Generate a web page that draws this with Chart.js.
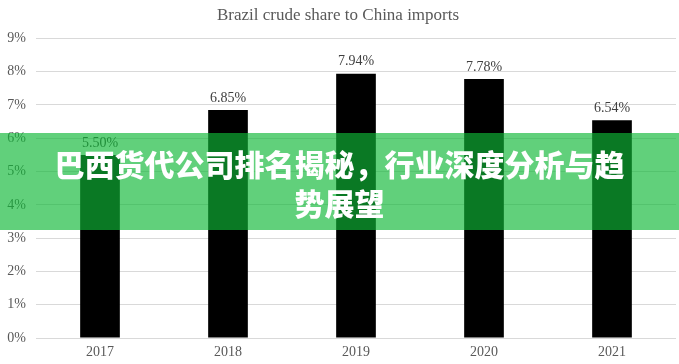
<!DOCTYPE html>
<html><head><meta charset="utf-8">
<script src="https://cdn.jsdelivr.net/npm/chart.js@4/dist/chart.umd.min.js"></script>
<style>
html,body{margin:0;padding:0;background:#fff;}
#wrap{position:relative;width:679px;height:364px;}
canvas{display:block;}
#banner{position:absolute;left:0;top:133px;width:679px;height:97px;background:rgba(15,184,55,0.66);display:flex;align-items:center;justify-content:center;}
#banner div{width:585px;text-align:center;color:#fff;font-family:"Noto Sans CJK SC","Noto Sans",sans-serif;font-weight:900;font-size:30px;line-height:39px;padding-top:2px;}
</style></head><body>
<div id="wrap"><canvas id="c" width="679" height="364"></canvas>
<div id="banner"><div>巴西货代公司排名揭秘，行业深度分析与趋势展望</div></div></div>
<script>
const categories = ["2017","2018","2019","2020","2021"];
const shareValues = [5.50, 6.85, 7.94, 7.78, 6.54];
const yTickMax = 9;
const chartTitle = "Brazil crude share to China imports";

const labelPlugin = {
  id: 'barLabels',
  afterDatasetsDraw(chart){
    const ctx = chart.ctx;
    const meta = chart.getDatasetMeta(0);
    ctx.save();
    ctx.font = '14px "Liberation Serif", serif';
    ctx.fillStyle = '#404040';
    ctx.textAlign = 'center';
    ctx.textBaseline = 'bottom';
    meta.data.forEach((bar, i) => {
      ctx.fillText(shareValues[i].toFixed(2) + '%', bar.x, bar.y - 5);
    });
    ctx.restore();
  }
};

new Chart(document.getElementById('c'), {
  type: 'bar',
  data: { labels: categories, datasets: [{ data: shareValues, backgroundColor: '#000', categoryPercentage: 1, barPercentage: 0.31 }] },
  options: {
    responsive: false, animation: false,
    layout: { padding: { top: 0, right: 3, bottom: 0, left: 0 } },
    plugins: {
      legend: { display: false }, tooltip: { enabled: false },
      title: { display: true, text: chartTitle, color: '#595959', font: { family: '"Liberation Serif", serif', size: 17, weight: 'normal' }, padding: { top: 5, bottom: 13 } }
    },
    scales: {
      x: { grid: { display: false, drawTicks: false }, border: { display: false },
           afterFit(s){ s.height = 26; },
           ticks: { color: '#595959', font: { family: '"Liberation Serif", serif', size: 14 }, padding: 6 } },
      y: { min: 0, max: yTickMax, grid: { color: '#d9d9d9', drawTicks: false }, border: { display: false },
           afterFit(s){ s.width = 36; },
           ticks: { stepSize: 1, padding: 10, color: '#595959', font: { family: '"Liberation Serif", serif', size: 14 }, callback: v => v + '%' } }
    }
  },
  plugins: [labelPlugin]
});
</script></body></html>
